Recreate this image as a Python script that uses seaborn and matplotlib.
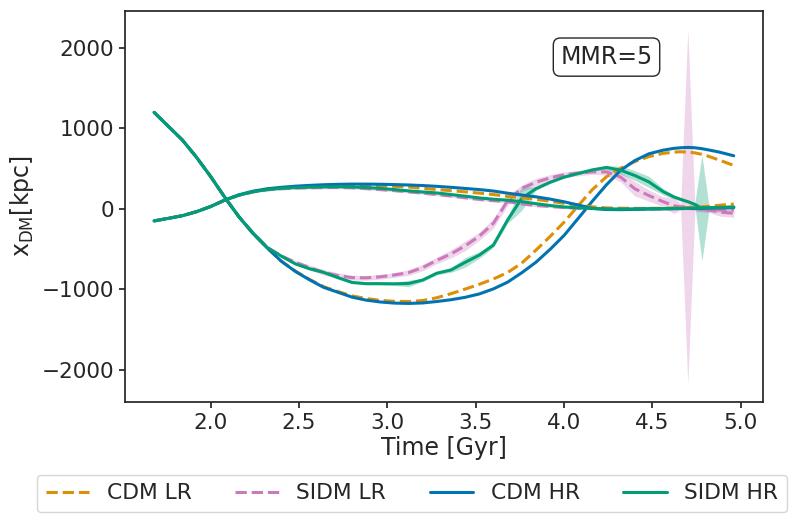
import pandas as pd
import matplotlib
matplotlib.use("Agg")
import matplotlib.pyplot as plt
import seaborn as sns

# snapshot times [Gyr]
time = [1.68, 1.76, 1.84, 1.92, 2.00, 2.08, 2.16, 2.24, 2.32, 2.40,
        2.48, 2.56, 2.64, 2.72, 2.80, 2.88, 2.96, 3.04, 3.12, 3.20,
        3.28, 3.36, 3.44, 3.52, 3.60, 3.68, 3.76, 3.84, 3.92, 4.00,
        4.08, 4.16, 4.24, 4.32, 4.40, 4.48, 4.56, 4.62, 4.66, 4.70,
        4.74, 4.78, 4.82, 4.88, 4.96]

# halo 1 (starts at +1200 kpc)
cdm_lr_1 = [1200, 1028, 856, 641, 402, 143, -99, -308, -486, -650,
            -775, -878, -968, -1028, -1082, -1115, -1138, -1150, -1152, -1140,
            -1105, -1055, -998, -938, -872, -792, -675, -515, -345, -165,
            40, 240, 400, 505, 588, 650, 690, 705, 710, 706,
            696, 678, 652, 605, 540]
sidm_lr_1 = [1200, 1028, 856, 641, 402, 143, -99, -300, -480, -585,
             -665, -730, -790, -830, -855, -858, -845, -822, -792, -730,
             -640, -560, -460, -340, -180, 100, 255, 330, 385, 425,
             445, 460, 460, 395, 250, 165, 90, 40, 25, 30,
             10, -10, -15, -40, -55]
cdm_hr_1 = [1200, 1028, 856, 641, 402, 143, -99, -308, -486, -652,
            -779, -883, -977, -1037, -1098, -1135, -1158, -1172, -1176, -1170,
            -1152, -1130, -1100, -1058, -995, -912, -795, -665, -505, -330,
            -118, 96, 300, 480, 600, 685, 730, 752, 760, 764,
            760, 748, 732, 705, 660]
sidm_hr_1 = [1200, 1028, 856, 641, 402, 143, -99, -300, -480, -588,
             -685, -745, -790, -855, -915, -930, -930, -932, -928, -885,
             -800, -760, -665, -575, -450, -140, 130, 250, 330, 395,
             440, 485, 515, 480, 415, 335, 215, 150, 118, 90,
             55, 10, 10, 15, 25]

# halo 2 (starts at -150 kpc)
cdm_lr_2 = [-150, -118, -85, -35, 30, 110, 172, 215, 243, 260,
            272, 280, 286, 290, 292, 290, 286, 280, 272, 255,
            240, 226, 212, 196, 178, 155, 138, 118, 95, 68,
            45, 25, 12, 8, 6, 6, 8, 10, 12, 15,
            18, 25, 32, 45, 60]
sidm_lr_2 = [-150, -118, -85, -35, 28, 108, 170, 210, 236, 250,
             258, 262, 265, 266, 262, 252, 240, 227, 212, 196,
             178, 160, 138, 118, 102, 90, 62, 42, 30, 16,
             8, 5, 0, -3, -5, -3, 0, 2, 5, 5,
             0, -5, -10, -12, -10]
cdm_hr_2 = [-150, -118, -85, -35, 30, 110, 175, 220, 250, 268,
            282, 292, 300, 305, 308, 308, 306, 302, 297, 290,
            280, 268, 254, 240, 222, 195, 172, 150, 122, 88,
            48, 5, -8, -10, -6, -2, 0, 2, 3, 5,
            6, 8, 10, 12, 15]
sidm_hr_2 = [-150, -118, -85, -35, 28, 108, 170, 212, 240, 255,
             265, 270, 273, 275, 272, 265, 255, 240, 224, 210,
             198, 178, 158, 136, 120, 108, 90, 65, 42, 24,
             12, 5, 0, -2, 0, 2, 3, 5, 6, 8,
             10, 12, 15, 18, 20]

# scatter between runs (half width of the shaded band)
sidm_lr_1_spread = [5, 5, 5, 5, 5, 5, 5, 8, 10, 20,
                    25, 30, 35, 35, 30, 30, 30, 30, 35, 40,
                    40, 50, 60, 50, 60, 60, 40, 50, 40, 35,
                    35, 30, 40, 60, 90, 70, 60, 100, 40, 2210,
                    40, 30, 30, 50, 50]
sidm_hr_1_spread = [5, 5, 5, 5, 5, 5, 5, 8, 10, 12,
                    12, 15, 15, 15, 15, 15, 15, 20, 40, 20,
                    20, 30, 60, 40, 30, 40, 150, 20, 15, 15,
                    15, 15, 25, 50, 60, 70, 40, 25, 20, 15,
                    20, 660, 20, 15, 15]
sidm_lr_2_spread = [5, 5, 5, 5, 5, 5, 8, 10, 10, 12,
                    12, 15, 15, 15, 15, 15, 15, 15, 15, 15,
                    15, 15, 15, 15, 15, 15, 15, 15, 12, 12,
                    10, 10, 10, 10, 10, 10, 10, 10, 10, 10,
                    15, 20, 25, 30, 30]
sidm_hr_2_spread = [5, 5, 5, 5, 5, 5, 5, 8, 8, 10,
                    10, 10, 10, 10, 10, 10, 10, 10, 10, 10,
                    10, 10, 10, 10, 10, 10, 10, 10, 10, 10,
                    8, 8, 8, 8, 8, 8, 8, 8, 8, 8,
                    10, 15, 15, 15, 15]

models = ["CDM LR", "SIDM LR", "CDM HR", "SIDM HR"]
colors = {"CDM LR": "#DE8F05", "SIDM LR": "#CC78BC",
          "CDM HR": "#0173B2", "SIDM HR": "#029E73"}
dashes = {"CDM LR": (3.7, 1.6), "SIDM LR": (3.7, 1.6),
          "CDM HR": "", "SIDM HR": ""}

curves = [
    ("CDM LR", 1, cdm_lr_1, None), ("SIDM LR", 1, sidm_lr_1, sidm_lr_1_spread),
    ("CDM HR", 1, cdm_hr_1, None), ("SIDM HR", 1, sidm_hr_1, sidm_hr_1_spread),
    ("CDM LR", 2, cdm_lr_2, None), ("SIDM LR", 2, sidm_lr_2, sidm_lr_2_spread),
    ("CDM HR", 2, cdm_hr_2, None), ("SIDM HR", 2, sidm_hr_2, sidm_hr_2_spread),
]

# two rows per snapshot (mean -/+ spread) so seaborn draws the band
rows = []
for model, halo, vals, spread in curves:
    for i, (t, v) in enumerate(zip(time, vals)):
        s = spread[i] if spread is not None else 0
        rows.append({"time": t, "x": v - s, "model": model, "halo": halo})
        rows.append({"time": t, "x": v + s, "model": model, "halo": halo})
df = pd.DataFrame(rows)

sns.set_theme(style="ticks", rc={
    "axes.edgecolor": "#262626", "axes.linewidth": 1.25,
    "xtick.major.size": 4, "ytick.major.size": 4,
    "xtick.major.width": 1.25, "ytick.major.width": 1.25,
    "xtick.major.pad": 4, "ytick.major.pad": 4,
    "xtick.labelsize": 15.5, "ytick.labelsize": 15.5,
    "axes.labelsize": 17, "legend.fontsize": 15.7,
    "text.color": "#262626", "axes.labelcolor": "#262626",
    "xtick.color": "#262626", "ytick.color": "#262626",
})

fig, ax = plt.subplots(figsize=(7.97, 5.22), dpi=100)
fig.subplots_adjust(left=0.157, right=0.957, top=0.979, bottom=0.230)

for halo in [1, 2]:
    sns.lineplot(data=df[df["halo"] == halo], x="time", y="x",
                 hue="model", hue_order=models, palette=colors,
                 style="model", style_order=models, dashes=dashes,
                 estimator="mean", errorbar=("pi", 100),
                 err_kws={"alpha": 0.3, "linewidth": 0},
                 linewidth=2.2, legend=(halo == 1), ax=ax)

ax.set_xlabel("Time [Gyr]", labelpad=2)
ax.set_ylabel(r"$\mathrm{x_{DM}[kpc]}$", labelpad=4)
ax.set_yticks([-2000, -1000, 0, 1000, 2000])
for side in ["top", "right"]:
    ax.spines[side].set_visible(True)

ax.text(0.755, 0.882, "MMR=5", transform=ax.transAxes, ha="center",
        va="center", fontsize=17,
        bbox=dict(boxstyle="round,pad=0.3", fc="white", ec="#262626", lw=1.0))

sns.move_legend(ax, "upper center", bbox_to_anchor=(0.45, -0.158), ncol=4,
                title=None, frameon=True, fontsize=15.7)

plt.savefig("out.png", dpi=100)
plt.close()
